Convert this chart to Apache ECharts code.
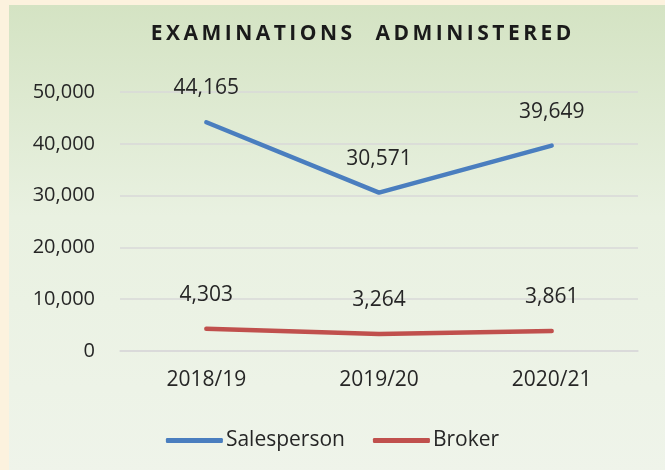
<!DOCTYPE html>
<html>
<head>
<meta charset="utf-8">
<script src="https://cdn.jsdelivr.net/npm/echarts@6/dist/echarts.min.js"></script>
<style>
  html, body { margin: 0; padding: 0; background: #fcf2de; }
  #main { width: 665px; height: 470px; }
</style>
</head>
<body>
<div id="main"></div>
<script>
const years = ['2018/19', '2019/20', '2020/21']
const salesperson = [44165, 30571, 39649]
const broker = [4303, 3264, 3861]
const titleWords = ['EXAMINATIONS', 'ADMINISTERED']

const chart = echarts.init(document.getElementById('main'))
const font = '"Open Sans", sans-serif'
// spread the title letters out a little, like the original
const spaced = w => w.split('').join('\u2009')
const titleText = titleWords.map(spaced).join('\u2009   \u2009')

const labelStyle = {
  show: true,
  position: 'top',
  distance: 23,
  color: '#262626',
  fontSize: 21,
  fontFamily: font,
  formatter: p => p.value.toLocaleString('en-US')
}

const option = {
  backgroundColor: '#fcf2de',
  graphic: [{
    type: 'rect',
    z: -10,
    shape: { x: 9, y: 5, width: 660, height: 470 },
    style: {
      fill: new echarts.graphic.LinearGradient(0, 0, 0, 1, [
        { offset: 0, color: '#d4e3c3' },
        { offset: 0.45, color: '#e9f1e1' },
        { offset: 1, color: '#eff4ea' }
      ])
    }
  }],
  title: {
    text: titleText,
    left: 356,
    textAlign: 'center',
    top: 19,
    textStyle: {
      fontFamily: font,
      fontSize: 21,
      fontWeight: 'bold',
      color: '#1a1a1a'
    }
  },
  legend: {
    top: 425,
    left: 'center',
    itemWidth: 57,
    itemHeight: 5,
    itemGap: 28,
    icon: 'roundRect',
    textStyle: { fontFamily: font, fontSize: 21, color: '#262626', padding: [0, 0, 0, -2] },
    data: ['Salesperson', 'Broker']
  },
  grid: { left: 120, right: 27, top: 92, bottom: 119 },
  xAxis: {
    type: 'category',
    data: years,
    axisLine: { lineStyle: { color: '#d9d9d9', width: 1.5 } },
    axisTick: { show: false },
    axisLabel: { fontFamily: font, fontSize: 21, color: '#262626', margin: 19 }
  },
  yAxis: {
    type: 'value',
    min: 0,
    max: 50000,
    interval: 10000,
    axisLine: { show: false },
    axisTick: { show: false },
    splitLine: { lineStyle: { color: '#d9d9d9', width: 1.5 } },
    axisLabel: {
      fontFamily: font,
      fontSize: 20,
      color: '#262626',
      margin: 25,
      formatter: v => v.toLocaleString('en-US')
    }
  },
  series: [
    {
      name: 'Salesperson',
      type: 'line',
      data: salesperson,
      symbol: 'circle',
      symbolSize: 1,
      showSymbol: true,
      color: '#4a7ebf',
      lineStyle: { width: 4.5, cap: 'round' },
      label: labelStyle
    },
    {
      name: 'Broker',
      type: 'line',
      data: broker,
      symbol: 'circle',
      symbolSize: 1,
      showSymbol: true,
      color: '#c0504d',
      lineStyle: { width: 4.5, cap: 'round' },
      label: labelStyle
    }
  ]
}
chart.setOption(option)
</script>
</body>
</html>
